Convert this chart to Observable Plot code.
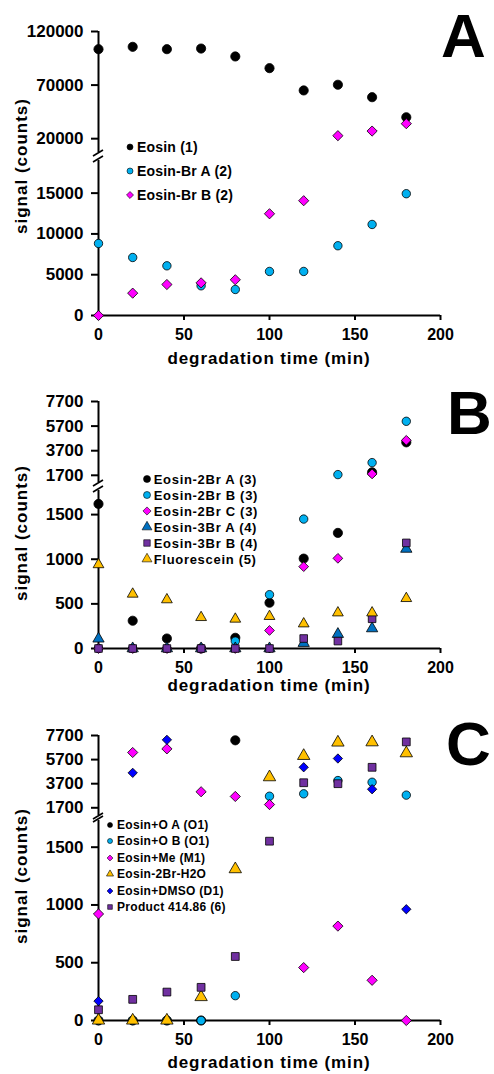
<!DOCTYPE html>
<html><head><meta charset="utf-8">
<script src="https://cdn.jsdelivr.net/npm/d3@7"></script>
<script src="https://cdn.jsdelivr.net/npm/@observablehq/plot@0.6"></script>
<style>
body{margin:0;background:#fff;}
#chart{position:relative;width:494px;height:1074px;font-family:"Liberation Sans",Arial,sans-serif;font-weight:bold;color:#000;overflow:hidden;}
#chart svg{display:block;overflow:visible;}
.ov{position:absolute;white-space:nowrap;line-height:1;}
.lg{position:absolute;white-space:nowrap;}
.lg div{position:absolute;left:0;display:flex;align-items:center;}
.lg svg{overflow:visible;}
</style></head><body><div id="chart"></div>
<script>
// ---------- data ----------
const time = [0, 20, 40, 60, 80, 100, 120, 140, 160, 180];
const xTicks = [0, 50, 100, 150, 200];

// Panel A
const eosin1    = [103500, 105700, 103500, 104100, 96700, 85800, 65000, 70300, 58700, 40000];
const eosinBrA2 = [8830, 7110, 6090, 3640, 3190, 5400, 5400, 8550, 11160, 14930];
const eosinBrB2 = [0, 2740, 3800, 4000, 4380, 12470, 14070, 22800, 27100, 34000];
const ticksA_up = [20000, 70000, 120000];
const ticksA_lo = [0, 5000, 10000, 15000];

// Panel B
const eosin2BrA3   = [1620, 311, 112, 0, 120, 513, 1007, 1295, 1944, 4380];
const eosin2BrB3   = [0, 0, 0, 0, 83, 603, 1450, 1757, 2732, 6090];
const eosin2BrC3   = [0, 0, 0, 0, 0, 202, 917, 1010, 1813, 4545];
const eosin3BrA4   = [109, 0, 0, 0, 0, 0, 60, 161, 224, 1115];
const eosin3BrB4   = [0, 0, 0, 0, 0, 0, 112, 83, 333, 1183];
const fluorescein5 = [940, 610, 547, 348, 330, 360, 277, 400, 400, 561];
const ticksB_up = [1700, 3700, 5700, 7700];
const ticksB_lo = [0, 500, 1000, 1500];

// Panel C
const eosinOA_O1   = [0, 0, 0, 0, 7300, null, null, null, null, null];
const eosinOB_O1   = [0, 0, 0, 0, 215, 2660, 2860, 3960, 3820, 2750];
const eosinMe_M1   = [922, 6290, 6590, 3030, 2640, 1970, 458, 817, 348, 0];
const eosin2BrH2O  = [0, 0, 0, 203, 1310, 4240, 6010, 7120, 7140, 6230];
const eosinDMSO_D1 = [168, 4600, 7340, null, null, null, 5065, 5790, 3240, 963];
const product41486 = [93, 183, 246, 287, 554, 1552, 3780, 3700, 5060, 7170];
const ticksC_up = [1700, 3700, 5700, 7700];
const ticksC_lo = [0, 500, 1000, 1500];

// ---------- styles / layout ----------
const CYAN = "#00B0F0", MAG = "#FF00FF", BLUE3 = "#0070C0", PURP = "#7030A0", GOLD = "#FFC000", BLUE = "#0000FF";

const panels = [
  {
    letter: "A", threshold: 19000,
    series: [
      {name: "Eosin (1)", values: eosin1, symbol: "circle", fill: "#000", r: 4.6},
      {name: "Eosin-Br A (2)", values: eosinBrA2, symbol: "circle", fill: CYAN, r: 4.2},
      {name: "Eosin-Br B (2)", values: eosinBrB2, symbol: "diamond2", fill: MAG, r: 4.6}
    ],
    upper: {domain: [7100, 120000], ticks: ticksA_up, height: 152, mt: 31},
    lower: {domain: [0, 19000], ticks: ticksA_lo, height: 218, mt: 8, mb: 55},
    xTitleDy: 43, yTitleCenter: 166,
    legend: {x: 130, y: 146.7, dy: 24.2, fs: 14, ls: 0.2, mr: 3},
    letterPos: {left: 441, top: 5}
  },
  {
    letter: "B", threshold: 1700,
    series: [
      {name: "Eosin-2Br A (3)", values: eosin2BrA3, symbol: "circle", fill: "#000", r: 4.6},
      {name: "Eosin-2Br B (3)", values: eosin2BrB3, symbol: "circle", fill: CYAN, r: 4.2},
      {name: "Eosin-2Br C (3)", values: eosin2BrC3, symbol: "diamond2", fill: MAG, r: 4.4},
      {name: "Eosin-3Br A (4)", values: eosin3BrA4, symbol: "triangle", fill: BLUE3, r: 4.2},
      {name: "Eosin-3Br B (4)", values: eosin3BrB4, symbol: "square", fill: PURP, r: 4.3},
      {name: "Fluorescein (5)", values: fluorescein5, symbol: "triangle", fill: GOLD, r: 4.0}
    ],
    upper: {domain: [1115, 7700], ticks: ticksB_up, height: 112, mt: 31},
    lower: {domain: [0, 1770], ticks: ticksB_lo, height: 214, mt: 8, mb: 48},
    xTitleDy: 37, yTitleCenter: 533,
    legend: {x: 146.7, y: 479.3, dy: 16, fs: 13, ls: 0.7, mr: 3.5},
    letterPos: {left: 447, top: 382}
  },
  {
    letter: "C", threshold: 1700,
    series: [
      {name: "Eosin+O A (O1)", values: eosinOA_O1, symbol: "circle", fill: "#000", r: 4.6},
      {name: "Eosin+O B (O1)", values: eosinOB_O1, symbol: "circle", fill: CYAN, r: 4.2},
      {name: "Eosin+Me (M1)", values: eosinMe_M1, symbol: "diamond2", fill: MAG, r: 4.6},
      {name: "Eosin-2Br-H2O", values: eosin2BrH2O, symbol: "triangle", fill: GOLD, r: 4.6},
      {name: "Eosin+DMSO (D1)", values: eosinDMSO_D1, symbol: "diamond2", fill: BLUE, r: 4.2},
      {name: "Product 414.86 (6)", values: product41486, symbol: "square", fill: PURP, r: 4.4}
    ],
    upper: {domain: [1060, 7700], ticks: ticksC_up, height: 119, mt: 39},
    lower: {domain: [0, 1731], ticks: ticksC_lo, height: 259, mt: 5, mb: 54},
    xTitleDy: 42, yTitleCenter: 876,
    legend: {x: 110, y: 825, dy: 16.4, fs: 12, ls: 0.3, mr: 2.5},
    letterPos: {left: 446, top: 713}
  }
];

const chart = document.getElementById("chart");

function breakMark(edge) {
  return (index, scales, values, dims) => {
    const x0 = scales.x(0);
    const y0 = edge === "bottom" ? dims.height - dims.marginBottom + 1 : dims.marginTop - 1;
    const g = d3.create("svg:g");
    g.append("line")
      .attr("x1", x0 - 5).attr("y1", y0 + 3)
      .attr("x2", x0 + 5).attr("y2", y0 - 3)
      .attr("stroke", "#000").attr("stroke-width", 1.6);
    return g.node();
  };
}

function dotsFor(series, rows) {
  return series.map((s, k) => Plot.dot(rows.filter(d => d.k === k), {
    x: "t", y: "v", symbol: s.symbol, fill: s.fill, stroke: "#000", strokeWidth: 0.8, r: s.r
  }));
}

let yOffset = 0;
for (const p of panels) {
  const rows = [];
  p.series.forEach((s, k) => s.values.forEach((v, i) => {
    if (v != null) rows.push({t: time[i], v, k});
  }));
  const upRows = rows.filter(d => d.v >= p.threshold);
  const loRows = rows.filter(d => d.v < p.threshold);

  const common = {
    width: 494, marginLeft: 98, marginRight: 54,
    x: {domain: [0, 200]},
    style: {background: "transparent", overflow: "visible", fontFamily: "'Liberation Sans', Arial, sans-serif", fontWeight: "bold", color: "#000"}
  };

  const up = Plot.plot({
    ...common,
    height: p.upper.height, marginTop: p.upper.mt, marginBottom: 0,
    x: {domain: [0, 200], axis: null},
    y: {domain: p.upper.domain, axis: null},
    marks: [
      Plot.axisY(p.upper.ticks, {tickSize: 7, tickPadding: 8, fontSize: 17, strokeWidth: 2, label: null, tickFormat: d => String(d)}),
      Plot.ruleX([0], {stroke: "#000", strokeWidth: 2}),
      breakMark("bottom"),
      ...dotsFor(p.series, upRows)
    ]
  });

  const lo = Plot.plot({
    ...common,
    height: p.lower.height, marginTop: p.lower.mt, marginBottom: p.lower.mb,
    x: {domain: [0, 200], axis: null},
    y: {domain: p.lower.domain, axis: null},
    marks: [
      Plot.axisY(p.lower.ticks, {tickSize: 7, tickPadding: 8, fontSize: 17, strokeWidth: 2, label: null, tickFormat: d => String(d)}),
      Plot.axisX(xTicks, {tickSize: 5, tickPadding: 8, fontSize: 16, strokeWidth: 2, label: null, tickFormat: d => String(d)}),
      Plot.ruleX([0], {stroke: "#000", strokeWidth: 2}),
      Plot.ruleY([0], {stroke: "#000", strokeWidth: 2}),
      breakMark("top"),
      ...dotsFor(p.series, loRows)
    ]
  });
  chart.appendChild(up);
  chart.appendChild(lo);

  const axisY0 = yOffset + p.upper.height + p.lower.height - p.lower.mb;

  // x axis title
  const xt = document.createElement("div");
  xt.className = "ov";
  xt.textContent = "degradation time (min)";
  Object.assign(xt.style, {fontSize: "17px", letterSpacing: "0.9px", left: "269px", top: (axisY0 + p.xTitleDy) + "px", transform: "translate(-50%,-50%)"});
  chart.appendChild(xt);

  // y axis title
  const yt = document.createElement("div");
  yt.className = "ov";
  yt.textContent = "signal (counts)";
  Object.assign(yt.style, {fontSize: "17px", letterSpacing: "1px", left: "21px", top: p.yTitleCenter + "px", transform: "translate(-50%,-50%) rotate(-90deg)"});
  chart.appendChild(yt);

  // panel letter
  const lt = document.createElement("div");
  lt.className = "ov";
  lt.textContent = p.letter;
  Object.assign(lt.style, {fontSize: "62px", left: p.letterPos.left + "px", top: p.letterPos.top + "px"});
  chart.appendChild(lt);

  // legend
  const L = p.legend;
  const lg = document.createElement("div");
  lg.className = "lg";
  Object.assign(lg.style, {left: "0px", top: "0px", fontSize: L.fs + "px", letterSpacing: L.ls + "px"});
  p.series.forEach((s, k) => {
    const row = document.createElement("div");
    const cy = L.y + k * L.dy;
    Object.assign(row.style, {left: (L.x - 6) + "px", top: (cy - 8) + "px", height: "16px"});
    const sym = d3.create("svg").attr("width", 12).attr("height", 12);
    const symType = {circle: d3.symbolCircle, diamond2: d3.symbolDiamond2, triangle: d3.symbolTriangle, square: d3.symbolSquare}[s.symbol];
    const rr = L.mr * (s.symbol === "circle" ? 1 : 1.05);
    sym.append("path")
      .attr("transform", "translate(6,6)")
      .attr("d", d3.symbol(symType, Math.PI * rr * rr)())
      .attr("fill", s.fill).attr("stroke", "#000").attr("stroke-width", 0.6);
    row.appendChild(sym.node());
    const tx = document.createElement("span");
    tx.textContent = s.name;
    tx.style.marginLeft = "1px";
    row.appendChild(tx);
    lg.appendChild(row);
  });
  chart.appendChild(lg);

  yOffset += p.upper.height + p.lower.height;
}
</script>
</body></html>
